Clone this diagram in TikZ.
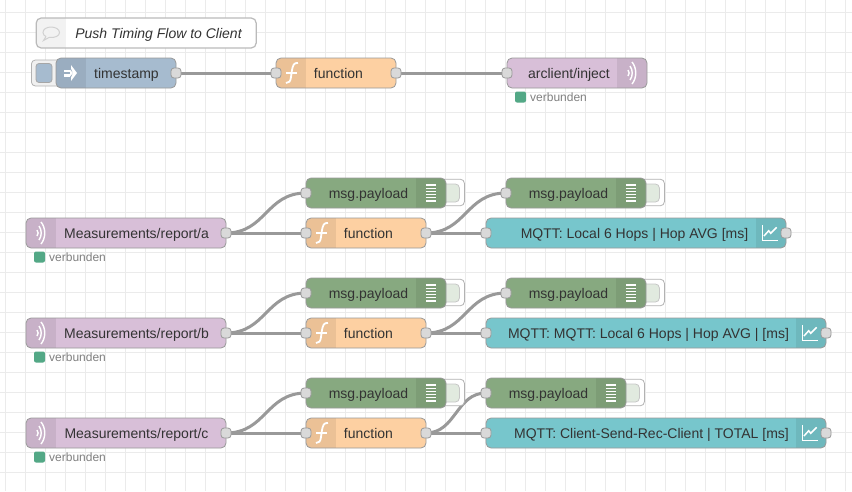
\documentclass[tikz,border=0pt]{standalone}
\usepackage{fontspec}
\setmainfont{Liberation Sans}
\usetikzlibrary{backgrounds}
\definecolor{InjectBlue}{HTML}{a6bbcf}
\definecolor{FunctionOrange}{HTML}{fdd0a2}
\definecolor{MqttLilac}{HTML}{d8bfd8}
\definecolor{DebugGreen}{HTML}{87a980}
\definecolor{ChartTeal}{HTML}{77c6cc}
\definecolor{StatusGreen}{HTML}{53a886}
\definecolor{NodeText}{HTML}{333333}
\tikzset{
  flowbox/.style = {draw = black!40, line width = .8pt, rounded corners = 5pt,
    minimum height = 30pt, inner sep = 0pt, anchor = west, xshift = -.4pt},
  flowtext/.style = {text = NodeText, inner sep = 0pt, text height = 10pt, text depth = 3pt,
    yshift = -2pt, xshift = .5pt, font = \fontsize{14}{16}\selectfont},
  leftpanel/.style = {path picture = {
    \fill[black, opacity = .07, sharp corners] (path picture bounding box.north west) rectangle +(30,30);}},
  rightpanel/.style = {path picture = {
    \fill[black, opacity = .07, sharp corners] (path picture bounding box.north east) rectangle +(-30,30);}},
  portbox/.style = {draw = black!40, fill = black!15, line width = .8pt,
    rounded corners = 3pt, minimum size = 10pt, inner sep = 0pt},
  tabbox/.style = {draw = black!30, line width = .8pt, rounded corners = 4pt,
    inner sep = 0pt, anchor = west},
  statusdot/.style = {fill = StatusGreen, rounded corners = 2pt,
    minimum size = 11pt, inner sep = 0pt},
  statustext/.style = {text = black!50, inner sep = 0pt, anchor = west,
    font = \fontsize{12}{14}\selectfont},
  wire/.style = {draw = black!40, line width = 3pt},
  pics/waveicon/.style = {code = {
    \draw[white, line width = 1.4pt] (-4,-3) .. controls (-2.5,-1.5) and (-2.5,1.5) .. (-4,3);
    \draw[white, line width = 1.4pt] (-2,-7) .. controls (1,-3) and (1,3) .. (-2,7);
    \draw[white, line width = 1.4pt] (0,-11) .. controls (5,-5) and (5,5) .. (0,11);
  }},
  pics/functionicon/.style = {code = {
    \draw[white, line width = 1.8pt] (7,-10) .. controls (3,-10.5) and (2,-8) .. (1,-3)
      -- (0,4) .. controls (-.5,8) and (-2,10.5) .. (-5,10);
    \draw[white, line width = 1.3pt] (-5,0) -- (6,0);
  }},
  pics/debugicon/.style = {code = {
    \foreach \l in {-8,-4.8,-1.6,1.6,4.8,8}
      \draw[white, line width = 1.2pt] (-5,\l) -- (5,\l);
  }},
  pics/charticon/.style = {code = {
    \draw[white, line width = 1pt] (-9,-8) -- (-9,7.5) -- (7,7.5);
    \draw[white, line width = 1.5pt] (-7,3) -- (-2.3,-2.3) -- (-.3,.3) -- (5.7,-5.7);
  }},
  pics/arrowicon/.style = {code = {
    \fill[white] (-7,-3.5) rectangle (-1,-1);
    \fill[white] (-7,1) rectangle (-1,3.5);
    \fill[white] (0,-8) -- (6,0) -- (0,8) -- (0,4.5) -- (2,0) -- (0,-4.5) -- cycle;
    \fill[white] (-1,-3.5) -- (2,0) -- (-1,3.5) -- cycle;
  }}
}

\begin{document}
\begin{tikzpicture}[x = 1pt, y = -1pt]
  \useasboundingbox (0,0) rectangle (852,491);

  % comment
  \node[flowbox, draw = black!27, line width = 1.2pt, fill = white, minimum width = 220pt,
    path picture = {\fill[black!5, sharp corners] (path picture bounding box.north west) rectangle +(30,30);}]
    (note) at (36,33) {};
  \draw[black!18, line width = 1pt] (46,36.5) -- (43.5,40.5) -- (49,37.5)
    .. controls (55,38) and (59.5,36) .. (59.5,32.5)
    .. controls (59.5,29) and (55,27) .. (51,27)
    .. controls (47,27) and (43,29) .. (43,32.5)
    .. controls (43,34.5) and (44.5,36) .. (46,36.5);
  \node[flowtext, font = \fontsize{14}{16}\selectfont\itshape] (notetext) at (158,33) {Push Timing Flow to Client};

  % top flow
  \node[tabbox, fill = black!6, minimum width = 34pt, minimum height = 26pt] (tstab) at (31,73) {};
  \node[draw = black!35, fill = InjectBlue, line width = .8pt, rounded corners = 3pt,
    minimum width = 16pt, minimum height = 19pt, inner sep = 0pt] (tsbutton) at (44,73) {};
  \node[flowbox, leftpanel, fill = InjectBlue, minimum width = 120pt] (ts) at (56,73) {};
  \pic at (71,73) {arrowicon};
  \node[flowtext] (tstext) at (126,73) {timestamp};
  \node[portbox] (tsout) at (176,73) {};

  \node[flowbox, leftpanel, fill = FunctionOrange, minimum width = 120pt] (fn) at (276,73) {};
  \pic at (291,73) {functionicon};
  \node[flowtext] (fntext) at (338,73) {function};
  \node[portbox] (fnin) at (276,73) {};
  \node[portbox] (fnout) at (396,73) {};

  \node[flowbox, rightpanel, fill = MqttLilac, minimum width = 140pt] (inject) at (507,73) {};
  \pic at (632,73) {waveicon};
  \node[flowtext] (injecttext) at (568.5,73) {arclient/inject};
  \node[portbox] (injectin) at (507,73) {};
  \node[statusdot] (injectdot) at (520.5,97) {};
  \node[statustext] (injectstatus) at (530,97) {verbunden};

  % measurement rows
  \foreach \r/\cy/\mx/\mt/\qw/\qt/\qlabel in {
    a/233/506/568/300/634/{MQTT: Local 6 Hops | Hop AVG [ms]},
    b/333/506/568/340/648/{MQTT: MQTT: Local 6 Hops | Hop AVG | [ms]},
    c/433/486/548/340/651/{MQTT: Client-Send-Rec-Client | TOTAL [ms]}} {
    \node[flowbox, leftpanel, fill = MqttLilac, minimum width = 200pt] (\r report) at (26,\cy) {};
    \pic at (41,\cy) {waveicon};
    \node[flowtext] (\r reporttext) at (136,\cy) {Measurements/report/\r};
    \node[portbox] (\r reportout) at (226,\cy) {};
    \node[statusdot] (\r dot) at (39.5,\cy+24) {};
    \node[statustext] (\r status) at (49,\cy+24) {verbunden};

    % first debug
    \node[tabbox, fill = white, minimum width = 28pt, minimum height = 26.5pt] (\r tabone) at (436,\cy-40.5) {};
    \node[tabbox, draw = black!22, fill = DebugGreen!25, minimum width = 20pt, minimum height = 18pt] (\r innerone) at (439,\cy-40) {};
    \node[flowbox, rightpanel, fill = DebugGreen, minimum width = 140pt] (\r debug) at (306,\cy-40) {};
    \pic at (431,\cy-40) {debugicon};
    \node[flowtext] (\r debugtext) at (368,\cy-40) {msg.payload};
    \node[portbox] (\r debugin) at (306,\cy-40) {};

    % function
    \node[flowbox, leftpanel, fill = FunctionOrange, minimum width = 120pt] (\r fn) at (306,\cy) {};
    \pic at (321,\cy) {functionicon};
    \node[flowtext] (\r fntext) at (368,\cy) {function};
    \node[portbox] (\r fnin) at (306,\cy) {};
    \node[portbox] (\r fnout) at (426,\cy) {};

    % second debug
    \node[tabbox, fill = white, minimum width = 28pt, minimum height = 26.5pt] (\r tabtwo) at (\mx+130,\cy-40.5) {};
    \node[tabbox, draw = black!22, fill = DebugGreen!25, minimum width = 20pt, minimum height = 18pt] (\r innertwo) at (\mx+133,\cy-40) {};
    \node[flowbox, rightpanel, fill = DebugGreen, minimum width = 140pt] (\r result) at (\mx,\cy-40) {};
    \pic at (\mx+125,\cy-40) {debugicon};
    \node[flowtext] (\r resulttext) at (\mt,\cy-40) {msg.payload};
    \node[portbox] (\r resultin) at (\mx,\cy-40) {};

    % chart
    \node[flowbox, rightpanel, fill = ChartTeal, minimum width = \qw pt] (\r chart) at (486,\cy) {};
    \pic at (486+\qw-15,\cy) {charticon};
    \node[flowtext] (\r charttext) at (\qt,\cy) {\qlabel};
    \node[portbox] (\r chartin) at (486,\cy) {};
    \node[portbox] (\r chartout) at (486+\qw,\cy) {};
  }

  % grid and wires behind the nodes
  \begin{pgfonlayer}{background}
    \fill[white] (0,0) rectangle (852,491);
    \foreach \x in {5.5,25.5,...,845.5}
      \draw[black!8, line width = .8pt] (\x,0) -- (\x,491);
    \foreach \y in {12.5,32.5,...,492.5}
      \draw[black!8, line width = .8pt] (0,\y) -- (852,\y);

    \draw[wire] (tsout) -- (fnin);
    \draw[wire] (fnout) -- (injectin);
    \foreach \r/\dx in {a/40,b/40,c/30} {
      \draw[wire] (\r reportout.center) .. controls +(40,0) and +(-40,0) .. (\r debugin.center);
      \draw[wire] (\r reportout) -- (\r fnin);
      \draw[wire] (\r fnout.center) .. controls +(\dx,0) and +(-\dx,0) .. (\r resultin.center);
      \draw[wire] (\r fnout) -- (\r chartin);
    }
  \end{pgfonlayer}
\end{tikzpicture}
\end{document}
